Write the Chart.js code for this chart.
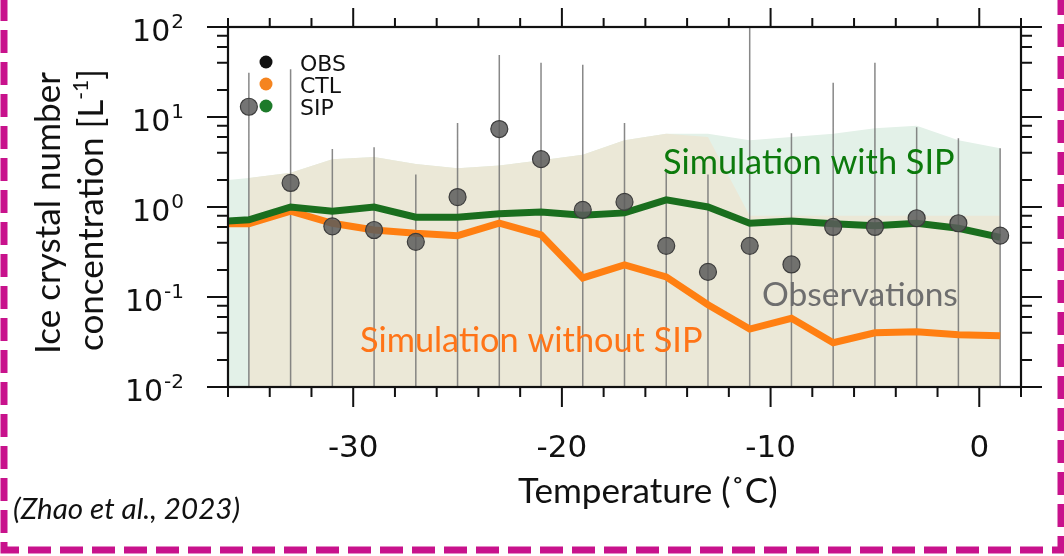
<!DOCTYPE html>
<html><head><meta charset="utf-8">
<script src="https://cdn.jsdelivr.net/npm/chart.js@4.4.1/dist/chart.umd.min.js"></script>
<style>html,body{margin:0;padding:0;background:#fff;overflow:hidden}canvas{display:block}</style>
</head><body>
<canvas id="c" width="1064" height="556"></canvas>
<script>
// ---------- data ----------
const obsTemp  = [-35,-33,-31,-29,-27,-25,-23,-21,-19,-17,-15,-13,-11,-9,-7,-5,-3,-1,1];
const obsMean  = [13,1.85,0.61,0.555,0.41,1.29,7.35,3.4,0.93,1.14,0.37,0.19,0.37,0.23,0.6,0.6,0.75,0.66,0.48];
const obsHigh  = [31,34,4.4,4.6,2.3,8.6,49,40,38,8.6,2.6,2.3,120,6.6,24,40,7.7,5.8,4.5];
const obsLow   = [0.005,0.005,0.005,0.005,0.005,0.005,0.005,0.005,0.005,0.005,0.005,0.005,0.005,0.005,0.005,0.005,0.005,0.005,0.005];

const modelTemp = [-36,-35,-33,-31,-29,-27,-25,-23,-21,-19,-17,-15,-13,-11,-9,-7,-5,-3,-1,1];
const ctlMean   = [0.65,0.65,0.9,0.66,0.555,0.51,0.48,0.66,0.49,0.163,0.227,0.167,0.082,0.044,0.058,0.031,0.040,0.041,0.038,0.037];
const sipMean   = [0.70,0.72,1.0,0.90,1.0,0.77,0.77,0.84,0.88,0.81,0.86,1.2,1.0,0.66,0.70,0.65,0.62,0.66,0.58,0.46];
const ctlUpper  = [null,2.1,2.4,3.4,3.6,3.0,2.7,2.9,3.3,3.8,5.5,6.5,6.0,0.8,0.8,0.8,0.8,0.8,0.8,0.8];
const sipUpper  = [2.0,2.1,2.4,3.4,3.6,3.0,2.7,2.9,3.3,3.8,5.5,6.5,6.5,5.5,6.0,6.5,7.5,8.0,5.5,4.5];

const xMajorTicks = [-30,-20,-10,0];
const xTickLabels = ['-30','-20','-10','0'];
const xMinorTicks = [-36,-34,-32,-30,-28,-26,-24,-22,-20,-18,-16,-14,-12,-10,-8,-6,-4,-2,0,2];
const yMajorTicks = [0.01,0.1,1,10,100];
const yTickBase = '10';
const yTickExponents = ['-2','-1','0','1','2'];
const yMinorMultipliers = [2,4,6,8];

const legendLabels = ['OBS','CTL','SIP'];
const legendColors = ['#111111','#f5841f','#1d7a2a'];

// ---------- helpers ----------
const toXY = (xs, ys) => xs.map((x, i) => ({x, y: ys[i]}));
const errData = [];
obsTemp.forEach((t, i) => { errData.push({x:t, y:obsLow[i]}, {x:t, y:obsHigh[i]}, {x:t, y:null}); });

function fitSize(ctx, text, family, style, target) {
  ctx.font = style + ' 100px ' + family;
  return 100 * target / ctx.measureText(text).width;
}

const decor = {
  id: 'decor',
  afterDraw(chart) {
    const {ctx, chartArea: a, scales: {x, y}} = chart;
    ctx.save();
    ctx.setLineDash([]);
    // plot frame
    ctx.strokeStyle = '#111'; ctx.lineWidth = 2.2;
    ctx.strokeRect(a.left, a.top, a.right - a.left, a.bottom - a.top);
    // tick marks
    ctx.lineWidth = 2;
    ctx.beginPath();
    xMinorTicks.forEach(v => {
      const px = x.getPixelForValue(v);
      const major = xMajorTicks.includes(v);
      ctx.moveTo(px, a.bottom); ctx.lineTo(px, a.bottom + (major ? 20 : 10));
      ctx.moveTo(px, a.top); ctx.lineTo(px, a.top - (major ? 19 : 9));
    });
    yMajorTicks.forEach((v, i) => {
      const py = y.getPixelForValue(v);
      ctx.moveTo(a.left, py); ctx.lineTo(a.left - 21, py);
      ctx.moveTo(a.right, py); ctx.lineTo(a.right + 21, py);
      if (i < yMajorTicks.length - 1) {
        yMinorMultipliers.forEach(m => {
          const pm = y.getPixelForValue(v * m);
          ctx.moveTo(a.left, pm); ctx.lineTo(a.left - 11, pm);
          ctx.moveTo(a.right, pm); ctx.lineTo(a.right + 11, pm);
        });
      }
    });
    ctx.stroke();

    // x tick labels
    ctx.fillStyle = '#111';
    ctx.font = '31px "DejaVu Sans"';
    ctx.textAlign = 'center'; ctx.textBaseline = 'alphabetic';
    xMajorTicks.forEach((v, i) => ctx.fillText(xTickLabels[i], x.getPixelForValue(v), 457));

    // y tick labels 10^n
    yMajorTicks.forEach((v, i) => {
      const py = y.getPixelForValue(v);
      ctx.font = '20px "DejaVu Sans"';
      const ew = ctx.measureText(yTickExponents[i]).width;
      ctx.textAlign = 'right';
      ctx.fillText(yTickExponents[i], 184, py + 1);
      ctx.font = '30px "DejaVu Sans"';
      ctx.fillText(yTickBase, 184 - ew - 1, py + 14);
    });

    // legend
    ctx.textAlign = 'left';
    legendLabels.forEach((lab, i) => {
      const ly = 62 + i * 22;
      ctx.fillStyle = legendColors[i];
      ctx.beginPath(); ctx.arc(266, ly, 6.5, 0, Math.PI * 2); ctx.fill();
      ctx.fillStyle = '#111';
      ctx.font = '22px "DejaVu Sans"';
      ctx.fillText(lab, 300, ly + 9);
    });

    // annotations
    const ann = (text, left, base, width, color) => {
      const s = fitSize(ctx, text, 'Lato', '', width);
      ctx.font = s.toFixed(1) + 'px Lato';
      ctx.fillStyle = color; ctx.textAlign = 'left';
      ctx.fillText(text, left, base);
    };
    ann('Simulation with SIP', 663, 174, 292, '#0c7a0c');
    ann('Observations', 762, 306, 196, '#6e6e6e');
    ann('Simulation without SIP', 360, 352, 343, '#ff7417');

    // x title
    ann('Temperature (\u02DAC)', 518, 503, 260, '#111');
    // citation
    {
      const s = fitSize(ctx, '(Zhao et al., 2023)', 'Lato', 'italic', 227);
      ctx.font = 'italic ' + s.toFixed(1) + 'px Lato';
      ctx.fillStyle = '#111'; ctx.textAlign = 'left';
      ctx.fillText('(Zhao et al., 2023)', 13, 519);
    }

    // y title (rotated, two lines)
    ctx.save();
    ctx.translate(60, 213); ctx.rotate(-Math.PI / 2);
    let s1 = fitSize(ctx, 'Ice crystal number', 'Lato', '', 282);
    ctx.font = s1.toFixed(1) + 'px Lato'; ctx.fillStyle = '#111'; ctx.textAlign = 'center';
    ctx.fillText('Ice crystal number', 0, 0);
    ctx.restore();
    ctx.save();
    ctx.translate(103, 210); ctx.rotate(-Math.PI / 2);
    const main = 'concentration [L', sup = '-1', end = ']';
    ctx.font = s1.toFixed(1) + 'px Lato';
    const wMain = ctx.measureText(main).width, wEnd = ctx.measureText(end).width;
    const supSize = s1 * 0.6;
    ctx.font = supSize.toFixed(1) + 'px Lato';
    const wSup = ctx.measureText(sup).width;
    const total = wMain + wSup + wEnd;
    let cx = -total / 2;
    ctx.textAlign = 'left'; ctx.fillStyle = '#111';
    ctx.font = s1.toFixed(1) + 'px Lato';
    ctx.fillText(main, cx, 0); cx += wMain;
    ctx.font = supSize.toFixed(1) + 'px Lato';
    ctx.fillText(sup, cx, -s1 * 0.42); cx += wSup;
    ctx.font = s1.toFixed(1) + 'px Lato';
    ctx.fillText(end, cx, 0);
    ctx.restore();

    // dashed outer frame
    ctx.strokeStyle = '#c8128c'; ctx.lineWidth = 7; ctx.setLineDash([23, 9]);
    ctx.beginPath();
    ctx.moveTo(4, -2); ctx.lineTo(4, 550); ctx.lineTo(1061, 550); ctx.lineTo(1061, -2);
    ctx.stroke();
    ctx.restore();
  }
};

new Chart(document.getElementById('c'), {
  type: 'line',
  data: {
    datasets: [
      {label: 'OBS', data: toXY(obsTemp, obsMean), showLine: false, pointRadius: 8.5,
       backgroundColor: 'rgba(92,92,92,0.85)', borderColor: '#3c3c3c', borderWidth: 1.2, order: 0},
      {label: 'SIP', data: toXY(modelTemp, sipMean), borderColor: '#1a6e1e', borderWidth: 7,
       pointRadius: 0, tension: 0, order: 1},
      {label: 'CTL', data: toXY(modelTemp, ctlMean), borderColor: '#ff7f12', borderWidth: 7,
       pointRadius: 0, tension: 0, order: 2},
      {label: 'OBS range', data: errData, borderColor: 'rgba(115,115,115,0.85)', borderWidth: 1.5,
       pointRadius: 0, spanGaps: false, order: 3},
      {label: 'CTL range', data: toXY(modelTemp, ctlUpper), borderWidth: 0, borderColor: 'rgba(0,0,0,0)',
       backgroundColor: '#ebe8d7', fill: 'start', pointRadius: 0, spanGaps: false, order: 4},
      {label: 'SIP range', data: toXY(modelTemp, sipUpper), borderWidth: 0, borderColor: 'rgba(0,0,0,0)',
       backgroundColor: '#e3f1e8', fill: 'start', pointRadius: 0, order: 5}
    ]
  },
  options: {
    responsive: false, maintainAspectRatio: false, animation: false, devicePixelRatio: 1,
    events: [],
    layout: {padding: {left: 228, top: 27, right: 43, bottom: 169}},
    scales: {
      x: {type: 'linear', min: -36, max: 2, display: false},
      y: {type: 'logarithmic', min: 0.01, max: 100, display: false}
    },
    plugins: {legend: {display: false}, tooltip: {enabled: false}}
  },
  plugins: [decor]
});
</script>
</body></html>
